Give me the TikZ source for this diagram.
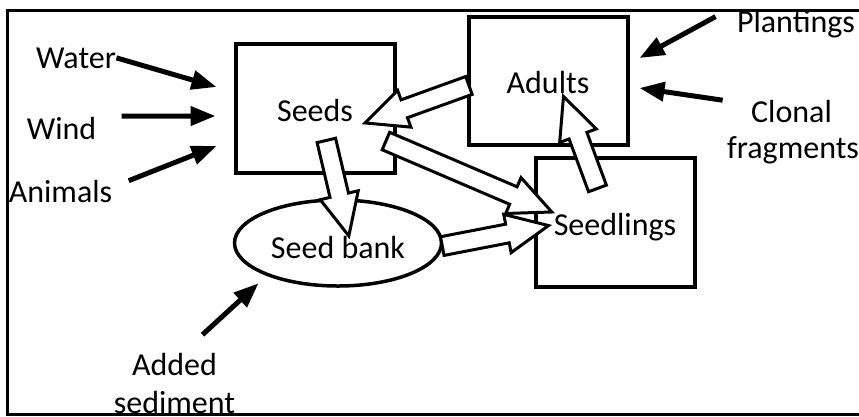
\documentclass[tikz,border=0pt]{standalone}
\usepackage{fontspec}
\setmainfont{Carlito}
\usetikzlibrary{shapes.geometric,shapes.arrows,arrows.meta,calc}
\tikzset{every node/.style={font=\fontsize{12.8}{15.6}\selectfont},
  stage/.style={draw, line width=1.6pt, minimum width=63.6pt, minimum height=51.4pt,
    inner sep=0pt, text height=10pt, text depth=0pt},
  source/.style={inner sep=0pt, anchor=base},
  feed/.style={line width=2pt, -{Triangle[length=10pt,width=7.5pt]}},
  flowarrow/.style={single arrow, draw, fill=white, line width=1.2pt, inner sep=3.2pt,
    single arrow head extend=4pt, single arrow tip angle=50}}
\newcommand\flow[2]{\path let \p1=($(#2)-(#1)$), \n1={veclen(\x1,\y1)}, \n2={atan2(\y1,\x1)} in
  node[flowarrow, minimum height=\n1, rotate=\n2] at ($(#1)!0.5!(#2)$) {};}

\begin{document}
\begin{tikzpicture}[x=0.4pt, y=-0.4pt]
   \useasboundingbox (0,0) rectangle (859,416);
   \draw[line width=1.2pt] (859,10) -- (7,10) -- (7,414.5) -- (859,414.5);
   % life stages
   \node[stage] (seeds) at (315,108.5) {Seeds};
   \node[stage] (adults) at (548,81) {Adults};
   \node[stage] (seedlings) at (615,222.5) {Seedlings};
   \node[ellipse, draw, line width=1.4pt, minimum width=82.8pt, minimum height=34.4pt,
         inner sep=0pt, text height=12pt, text depth=0pt] (bank) at (338,243) {Seed bank};
   % outside sources
   \node[source] (water) at (76,68) {Water};
   \node[source] (wind) at (61.5,139) {Wind};
   \node[source] (animals) at (60.5,202) {Animals};
   \node[source] (plantings) at (796,32) {Plantings};
   \node[source] (clonal) at (791.5,122) {Clonal};
   \node[source] (fragments) at (793,158) {fragments};
   \node[source] (added) at (174.5,375) {Added};
   \node[source] (sediment) at (174.5,413) {sediment};
   \draw[feed] (water.east) -- ($(seeds.west)+(-17,-21.5)$);
   \draw[feed] ($(wind.east)+(25,-12)$) -- ($(seeds.west)+(-18,7.5)$);
   \draw[feed] ($(animals.north east)+(16,1.4)$) -- ($(seeds.west)+(-17,37.5)$);
   \draw[feed] ($(plantings.west)+(-21,-7)$) -- ($(adults.east)+(10,-23)$);
   \draw[feed] ($(clonal.west)+(-28,-10.8)$) -- ($(adults.east)+(10,7)$);
   \draw[feed] ($(added.north)+(28,-17.6)$) -- ($(bank.south west)+(-5,8.6)$);
   % transitions between stages
   \coordinate (seeds-down) at ($(seeds.center)+(9,22)$);
   \coordinate (bank-in) at ($(bank.center)+(8.5,-17)$);
   \coordinate (seeds-right) at ($(seeds.east)+(-20,28.5)$);
   \coordinate (seedlings-in1) at ($(seedlings.west)+(9,-14.5)$);
   \coordinate (bank-out) at ($(bank.east)+(-11,5)$);
   \coordinate (seedlings-in2) at ($(seedlings.west)+(5,5)$);
   \coordinate (seedlings-up) at ($(seedlings.center)+(-14,-24.5)$);
   \coordinate (adults-in) at ($(adults.center)+(19,25)$);
   \coordinate (adults-out) at ($(adults.west)+(12,1)$);
   \coordinate (seeds-in) at ($(seeds.east)+(-22,11)$);
   \flow{seeds-down}{bank-in}
   \flow{seeds-right}{seedlings-in1}
   \flow{bank-out}{seedlings-in2}
   \flow{seedlings-up}{adults-in}
   \flow{adults-out}{seeds-in}
\end{tikzpicture}
\end{document}
